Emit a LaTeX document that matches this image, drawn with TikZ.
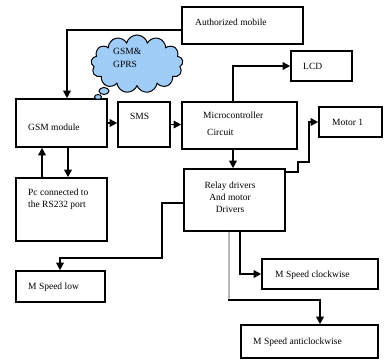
\documentclass[tikz,border=0pt]{standalone}
\usepackage{fontspec}
\setmainfont{Liberation Serif}
\usetikzlibrary{shapes.symbols,shapes.geometric,arrows.meta}
\definecolor{cloudblue}{RGB}{160,204,248}
\begin{document}
\begin{tikzpicture}[x=1pt,y=-1pt,
  box/.style={draw,line width=1.6pt,rectangle,inner sep=0pt},
  txt/.style={anchor=west,inner sep=0pt,font=\fontsize{9.5}{11}\selectfont},
  ctxt/.style={inner sep=0pt,font=\fontsize{9.5}{12}\selectfont,align=center},
  arr/.style={line width=1.6pt,-{Triangle[length=7.5pt,width=7.5pt]}},
  wire/.style={line width=1.6pt}]
\useasboundingbox (0,0) rectangle (384,360);
% boxes
\node[box,minimum width=121pt,minimum height=37pt] (auth) at (242.5,25.5) {};
\node[box,minimum width=91pt,minimum height=48pt] (gsm) at (61.5,123) {};
\node[box,minimum width=52pt,minimum height=45pt] (sms) at (144,124.5) {};
\node[box,minimum width=115pt,minimum height=47pt] (micro) at (239.5,125.5) {};
\node[box,minimum width=61pt,minimum height=30pt] (lcd) at (321.5,66) {};
\node[box,minimum width=63pt,minimum height=30pt] (motor) at (350.5,122) {};
\node[box,minimum width=101pt,minimum height=62pt] (relay) at (234.5,200) {};
\node[box,minimum width=91pt,minimum height=63pt] (pc) at (61.5,209.5) {};
\node[box,minimum width=89pt,minimum height=31pt] (low) at (60.5,286.5) {};
\node[box,minimum width=116pt,minimum height=30pt] (cw) at (320,274) {};
\node[box,minimum width=137pt,minimum height=33pt] (acw) at (309.5,341.5) {};
% cloud
\node[cloud,cloud puffs=13,aspect=1.5,draw,line width=1pt,fill=cloudblue,
  minimum width=92pt,minimum height=58pt,inner sep=0pt] (cloud) at (137,64) {};
\node[ellipse,draw,line width=1pt,fill=cloudblue,minimum width=10pt,minimum height=7pt,inner sep=0pt] (bub1) at (104,91) {};
\node[ellipse,draw,line width=1pt,fill=cloudblue,minimum width=7pt,minimum height=5pt,inner sep=0pt] (bub2) at (98,97) {};
% texts
\node[txt] (tauth) at (195,22) {Authorized mobile};
\node[txt] (tg1) at (113,51) {GSM\&};
\node[txt] (tg2) at (113,64) {GPRS};
\node[txt] (tgsm) at (28,127) {GSM module};
\node[txt] (tsms) at (130,116) {SMS};
\node[txt] (tmc1) at (203,115) {Microcontroller};
\node[txt] (tmc2) at (207,132) {Circuit};
\node[txt] (tlcd) at (303,66) {LCD};
\node[txt] (tmot) at (332,122) {Motor 1};
\node[txt] (tpc1) at (28,192) {Pc connected to};
\node[txt] (tpc2) at (28,205) {the RS232 port};
\node[ctxt] (trel) at (230,197) {Relay drivers\\And motor\\Drivers};
\node[txt] (tlow) at (28,287) {M Speed low};
\node[txt] (tcw) at (275,275) {M Speed clockwise};
\node[txt] (tacw) at (253,342) {M Speed anticlockwise};
% connectors
\draw[arr] ([yshift=-4.5pt]auth.west) -| ([xshift=5.5pt]gsm.north);
\draw[arr] (gsm.east) -- (sms.west |- gsm.east);
\draw[arr] (sms.east) -- (micro.west |- sms.east);
\draw[arr] ([xshift=-6.5pt]micro.north) |- (lcd.west);
\draw[arr] ([xshift=-6.5pt]micro.south) -- ([xshift=-1.5pt]relay.north);
\draw[arr] ([yshift=-4pt]relay.north east) -- ++(12,0) -- ++(0,-10) -- ++(11,0) |- (motor.west);
\draw[arr] ([xshift=6.5pt]gsm.south) -- ([xshift=6.5pt]pc.north);
\draw[arr] ([xshift=-19.5pt]pc.north) -- ([xshift=-19.5pt]gsm.south);
\draw[arr] ([yshift=-3pt]relay.west) -- ++(-21,0) -- ++(0,55) -| ([xshift=-0.5pt]low.north);
\draw[arr] ([xshift=5.5pt]relay.south) |- (cw.west);
\draw[line width=1.6pt,gray!55] ([xshift=-5.5pt]relay.south) -- ++(0,68) coordinate (g1);
\draw[arr] ([xshift=-0.8pt]g1) -| ([xshift=10.5pt]acw.north);
\end{tikzpicture}
\end{document}
